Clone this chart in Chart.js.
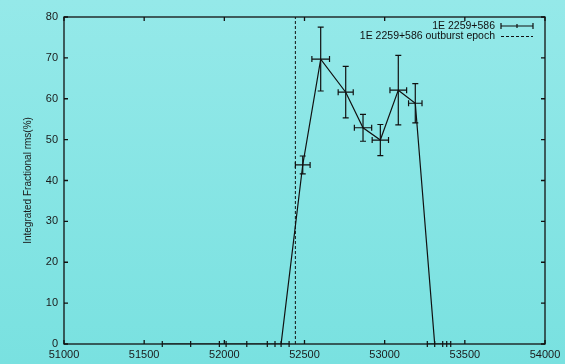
<!DOCTYPE html>
<html lang="en">
<head>
    <meta charset="UTF-8">
    <title>1E 2259+586 integrated fractional rms</title>
    <script src="https://cdn.jsdelivr.net/npm/chart.js"></script>
    <style>
        html, body {
            margin: 0;
            padding: 0;
        }
        body {
            width: 565px;
            height: 364px;
            background: linear-gradient(to bottom, #95e9e9, #79e1e0);
            font-family: 'Liberation Sans', Arial, sans-serif;
        }
        .wrap {
            position: relative;
            width: 565px;
            height: 364px;
        }
    </style>
</head>
<body>
    <div class="wrap">
        <canvas id="rmsChart" width="565" height="364"></canvas>
    </div>
    <script>
        // MJD of each observation (file order, as gnuplot connected them)
        const mjd = [51613, 51790, 51969, 52011, 52140, 52268, 52316, 52404, 52354,
                     52489, 52601, 52757, 52865, 52973, 53085, 53191,
                     53312, 53266, 53362, 53387, 53412];
        const mjdErr = [0, 0, 0, 0, 0, 0, 0, 0, 0,
                        46, 55, 47, 54, 51, 52, 42,
                        0, 0, 0, 0, 0];
        // integrated fractional rms (%)
        const rms = [0, 0, 0, 0, 0, 0, 0, 0, 0,
                     43.8, 69.7, 61.6, 52.9, 49.9, 62.1, 58.9,
                     0, 0, 0, 0, 0];
        const rmsErr = [0, 0, 0, 0, 0, 0, 0, 0, 0,
                        2.2, 7.8, 6.3, 3.3, 3.8, 8.5, 4.8,
                        0, 0, 0, 0, 0];
        const outburstEpoch = 52443;
        const xTicks = [51000, 51500, 52000, 52500, 53000, 53500, 54000];
        const yTicks = [0, 10, 20, 30, 40, 50, 60, 70, 80];
        const seriesLabel = '1E 2259+586';
        const epochLabel = '1E 2259+586 outburst epoch';

        const ink = '#111';
        const textFont = '10.5px "Liberation Sans", Arial, sans-serif';

        const points = mjd.map((x, i) => ({ x: x, y: rms[i] }));

        // error bars + frame + inward ticks + legend, gnuplot style
        const gnuplotBits = {
            id: 'gnuplotBits',
            afterDatasetsDraw(chart) {
                const ctx = chart.ctx;
                const xs = chart.scales.x, ys = chart.scales.y;
                const cap = 3;
                ctx.save();
                ctx.strokeStyle = ink;
                ctx.lineWidth = 1.2;
                ctx.beginPath();
                for (let i = 0; i < mjd.length; i++) {
                    const px = xs.getPixelForValue(mjd[i]);
                    const py = ys.getPixelForValue(rms[i]);
                    const x0 = xs.getPixelForValue(mjd[i] - mjdErr[i]);
                    const x1 = xs.getPixelForValue(mjd[i] + mjdErr[i]);
                    const y0 = ys.getPixelForValue(rms[i] - rmsErr[i]);
                    const y1 = ys.getPixelForValue(rms[i] + rmsErr[i]);
                    if (rmsErr[i] > 0) {
                        ctx.moveTo(px, y0); ctx.lineTo(px, y1);
                        ctx.moveTo(px - cap, y0); ctx.lineTo(px + cap, y0);
                        ctx.moveTo(px - cap, y1); ctx.lineTo(px + cap, y1);
                    }
                    ctx.moveTo(x0, py); ctx.lineTo(x1, py);
                    ctx.moveTo(x0, py - cap); ctx.lineTo(x0, py + cap);
                    ctx.moveTo(x1, py - cap); ctx.lineTo(x1, py + cap);
                }
                ctx.stroke();
                ctx.restore();
            },
            afterDraw(chart) {
                const ctx = chart.ctx;
                const a = chart.chartArea;
                const xs = chart.scales.x, ys = chart.scales.y;
                const tl = 4;
                ctx.save();
                ctx.strokeStyle = ink;
                ctx.lineWidth = 1.3;
                ctx.strokeRect(a.left, a.top, a.right - a.left, a.bottom - a.top);
                ctx.beginPath();
                xTicks.forEach(v => {
                    const px = xs.getPixelForValue(v);
                    ctx.moveTo(px, a.bottom); ctx.lineTo(px, a.bottom - tl);
                    ctx.moveTo(px, a.top); ctx.lineTo(px, a.top + tl);
                });
                yTicks.forEach(v => {
                    const py = ys.getPixelForValue(v);
                    ctx.moveTo(a.left, py); ctx.lineTo(a.left + tl, py);
                    ctx.moveTo(a.right, py); ctx.lineTo(a.right - tl, py);
                });
                ctx.stroke();

                // legend, text right aligned with the sample on its right
                const textRight = a.right - 50;
                const s0 = a.right - 44, s1 = a.right - 12;
                const row1 = a.top + 9, row2 = a.top + 19.5;
                ctx.fillStyle = ink;
                ctx.font = textFont;
                ctx.textAlign = 'right';
                ctx.textBaseline = 'middle';
                ctx.fillText(seriesLabel, textRight, row1);
                ctx.fillText(epochLabel, textRight, row2);
                ctx.lineWidth = 1.2;
                ctx.beginPath();
                ctx.moveTo(s0, row1); ctx.lineTo(s1, row1);
                ctx.moveTo(s0, row1 - 3); ctx.lineTo(s0, row1 + 3);
                ctx.moveTo(s1, row1 - 3); ctx.lineTo(s1, row1 + 3);
                ctx.moveTo((s0 + s1) / 2, row1 - 2); ctx.lineTo((s0 + s1) / 2, row1 + 2);
                ctx.stroke();
                ctx.lineWidth = 1;
                ctx.setLineDash([3, 2]);
                ctx.beginPath();
                ctx.moveTo(s0, row2); ctx.lineTo(s1, row2);
                ctx.stroke();
                ctx.restore();
            }
        };

        document.addEventListener('DOMContentLoaded', () => {
            const ctx = document.getElementById('rmsChart').getContext('2d');
            new Chart(ctx, {
                type: 'line',
                data: {
                    datasets: [{
                        label: seriesLabel,
                        data: points,
                        borderColor: ink,
                        borderWidth: 1.2,
                        pointRadius: 0,
                        tension: 0,
                        fill: false
                    }, {
                        label: epochLabel,
                        data: [{ x: outburstEpoch, y: 0 }, { x: outburstEpoch, y: 80 }],
                        borderColor: ink,
                        borderWidth: 1,
                        borderDash: [3, 2],
                        pointRadius: 0,
                        fill: false
                    }]
                },
                options: {
                    responsive: false,
                    animation: false,
                    events: [],
                    layout: {
                        padding: { top: 17, right: 20, left: 0, bottom: 0 }
                    },
                    plugins: {
                        legend: { display: false },
                        tooltip: { enabled: false }
                    },
                    scales: {
                        x: {
                            type: 'linear',
                            min: 51000,
                            max: 54000,
                            afterFit: s => { s.height = 20; },
                            afterBuildTicks: s => { s.ticks = xTicks.map(v => ({ value: v })); },
                            grid: { display: false, drawTicks: false },
                            border: { display: false },
                            ticks: {
                                padding: 4,
                                maxRotation: 0,
                                autoSkip: false,
                                color: '#1a1a1a',
                                font: { family: 'Liberation Sans', size: 11 },
                                callback: v => String(v)
                            }
                        },
                        y: {
                            type: 'linear',
                            min: 0,
                            max: 80,
                            afterFit: s => { s.width = 64; },
                            afterBuildTicks: s => { s.ticks = yTicks.map(v => ({ value: v })); },
                            grid: { display: false, drawTicks: false },
                            border: { display: false },
                            title: {
                                display: true,
                                text: 'Integrated Fractional rms(%)',
                                color: '#1a1a1a',
                                font: { family: 'Liberation Sans', size: 10 },
                                padding: { top: 22, bottom: 0 }
                            },
                            ticks: {
                                padding: 6,
                                color: '#1a1a1a',
                                font: { family: 'Liberation Sans', size: 11 }
                            }
                        }
                    }
                },
                plugins: [gnuplotBits]
            });
        });
    </script>
</body>
</html>
